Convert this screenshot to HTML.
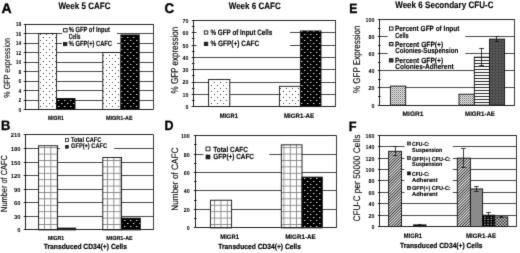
<!DOCTYPE html>
<html><head><meta charset="utf-8"><style>
html,body{margin:0;padding:0;background:#fff;width:520px;height:253px;overflow:hidden}
svg{display:block;font-family:"Liberation Sans", sans-serif;filter:grayscale(1)}
</style></head><body>
<svg xmlns="http://www.w3.org/2000/svg" width="520" height="253" viewBox="0 0 520 253" text-rendering="geometricPrecision" font-family='"Liberation Sans", sans-serif'>
<defs>
<pattern id="pdl" width="6" height="6" patternUnits="userSpaceOnUse">
  <rect width="6" height="6" fill="#fff"/>
  <rect x="1" y="1" width="1" height="1" fill="#444"/>
  <rect x="4" y="4" width="1" height="1" fill="#444"/>
</pattern>
<pattern id="pdd" width="6" height="6" patternUnits="userSpaceOnUse">
  <rect width="6" height="6" fill="#000"/>
  <rect x="1" y="1" width="1.4" height="1" fill="#ddd"/>
  <rect x="4" y="4" width="1.4" height="1" fill="#ddd"/>
</pattern>
<pattern id="pgrid" width="6.3" height="6.4" patternUnits="userSpaceOnUse">
  <rect width="6.3" height="6.4" fill="#fff"/>
  <rect x="0" y="0" width="0.9" height="6.4" fill="#888"/>
  <rect x="0" y="0" width="6.3" height="0.9" fill="#888"/>
</pattern>
<pattern id="pxl" width="2" height="2" patternUnits="userSpaceOnUse">
  <rect width="2" height="2" fill="#fff"/>
  <rect x="0" y="0" width="1" height="1" fill="#555"/>
  <rect x="1" y="1" width="1" height="1" fill="#999"/>
</pattern>
<pattern id="phs" width="4" height="3" patternUnits="userSpaceOnUse">
  <rect width="4" height="3" fill="#fff"/>
  <rect x="0" y="0" width="4" height="0.9" fill="#111"/>
</pattern>
<pattern id="pdg" width="3" height="3" patternUnits="userSpaceOnUse">
  <rect width="3" height="3" fill="#5a5a5a"/>
  <rect x="0" y="0" width="1" height="3" fill="#444"/>
  <rect x="0" y="0" width="3" height="1" fill="#4a4a4a"/>
</pattern>
<pattern id="pdiag" width="2.0" height="3" patternUnits="userSpaceOnUse" patternTransform="rotate(45)">
  <rect width="2.0" height="3" fill="#fff"/>
  <rect x="0" y="0" width="0.9" height="3" fill="#111"/>
</pattern>
<pattern id="pdd2" width="3.2" height="2.3" patternUnits="userSpaceOnUse">
  <rect width="3.2" height="2.3" fill="#000"/>
  <rect x="1" y="0.6" width="1.3" height="1" fill="#ddd"/>
</pattern>
<pattern id="pchk" width="3" height="3" patternUnits="userSpaceOnUse">
  <rect width="3" height="3" fill="#ddd"/>
  <rect x="0" y="0" width="1.5" height="1.5" fill="#222"/>
  <rect x="1.5" y="1.5" width="1.5" height="1.5" fill="#222"/>
</pattern>
<filter id="bl" x="0" y="0" width="520" height="253" filterUnits="userSpaceOnUse" color-interpolation-filters="sRGB"><feConvolveMatrix order="3" kernelMatrix="0.01134 0.08382 0.01134 0.08382 0.61935 0.08382 0.01134 0.08382 0.01134" edgeMode="duplicate"/></filter></defs>
<g filter="url(#bl)">
<rect width="520" height="253" fill="#fff"/>
<line x1="25.2" y1="100.5" x2="153.2" y2="100.5" stroke="#333" stroke-width="0.9"/>
<line x1="25.2" y1="90.5" x2="153.2" y2="90.5" stroke="#333" stroke-width="0.9"/>
<line x1="25.2" y1="81.5" x2="153.2" y2="81.5" stroke="#333" stroke-width="0.9"/>
<line x1="25.2" y1="71.5" x2="153.2" y2="71.5" stroke="#333" stroke-width="0.9"/>
<line x1="25.2" y1="62.5" x2="153.2" y2="62.5" stroke="#333" stroke-width="0.9"/>
<line x1="25.2" y1="52.5" x2="153.2" y2="52.5" stroke="#333" stroke-width="0.9"/>
<line x1="25.2" y1="43.5" x2="153.2" y2="43.5" stroke="#333" stroke-width="0.9"/>
<line x1="25.2" y1="33.5" x2="153.2" y2="33.5" stroke="#333" stroke-width="0.9"/>
<line x1="25.2" y1="24.5" x2="153.2" y2="24.5" stroke="#333" stroke-width="0.9"/>
<line x1="23.7" y1="109.5" x2="26.7" y2="109.5" stroke="#222" stroke-width="1"/>
<text x="21.2" y="111.99" font-size="5.8" font-weight="bold" text-anchor="end" textLength="2.75" lengthAdjust="spacingAndGlyphs">0</text>
<line x1="23.7" y1="100.5" x2="26.7" y2="100.5" stroke="#222" stroke-width="1"/>
<text x="21.2" y="102.49" font-size="5.8" font-weight="bold" text-anchor="end" textLength="2.75" lengthAdjust="spacingAndGlyphs">2</text>
<line x1="23.7" y1="90.5" x2="26.7" y2="90.5" stroke="#222" stroke-width="1"/>
<text x="21.2" y="92.99" font-size="5.8" font-weight="bold" text-anchor="end" textLength="2.75" lengthAdjust="spacingAndGlyphs">4</text>
<line x1="23.7" y1="81.5" x2="26.7" y2="81.5" stroke="#222" stroke-width="1"/>
<text x="21.2" y="83.49" font-size="5.8" font-weight="bold" text-anchor="end" textLength="2.75" lengthAdjust="spacingAndGlyphs">6</text>
<line x1="23.7" y1="71.5" x2="26.7" y2="71.5" stroke="#222" stroke-width="1"/>
<text x="21.2" y="73.99" font-size="5.8" font-weight="bold" text-anchor="end" textLength="2.75" lengthAdjust="spacingAndGlyphs">8</text>
<line x1="23.7" y1="62.5" x2="26.7" y2="62.5" stroke="#222" stroke-width="1"/>
<text x="21.2" y="64.49" font-size="5.8" font-weight="bold" text-anchor="end" textLength="5.5" lengthAdjust="spacingAndGlyphs">10</text>
<line x1="23.7" y1="52.5" x2="26.7" y2="52.5" stroke="#222" stroke-width="1"/>
<text x="21.2" y="54.99" font-size="5.8" font-weight="bold" text-anchor="end" textLength="5.5" lengthAdjust="spacingAndGlyphs">12</text>
<line x1="23.7" y1="43.5" x2="26.7" y2="43.5" stroke="#222" stroke-width="1"/>
<text x="21.2" y="45.49" font-size="5.8" font-weight="bold" text-anchor="end" textLength="5.5" lengthAdjust="spacingAndGlyphs">14</text>
<line x1="23.7" y1="33.5" x2="26.7" y2="33.5" stroke="#222" stroke-width="1"/>
<text x="21.2" y="35.99" font-size="5.8" font-weight="bold" text-anchor="end" textLength="5.5" lengthAdjust="spacingAndGlyphs">16</text>
<line x1="23.7" y1="24.5" x2="26.7" y2="24.5" stroke="#222" stroke-width="1"/>
<text x="21.2" y="26.49" font-size="5.8" font-weight="bold" text-anchor="end" textLength="5.5" lengthAdjust="spacingAndGlyphs">18</text>
<rect x="38.7" y="33.5" width="17.9" height="76" fill="url(#pdl)" stroke="#111" stroke-width="0.9"/>
<rect x="56.6" y="98.58" width="18.4" height="10.92" fill="url(#pdd)" stroke="#111" stroke-width="0.9"/>
<rect x="102.8" y="52.5" width="18.1" height="57" fill="url(#pdl)" stroke="#111" stroke-width="0.9"/>
<rect x="120.9" y="34.93" width="18.3" height="74.57" fill="url(#pdd)" stroke="#111" stroke-width="0.9"/>
<line x1="25.5" y1="24" x2="25.5" y2="109.5" stroke="#222" stroke-width="1"/>
<line x1="25.2" y1="109.5" x2="153.2" y2="109.5" stroke="#222" stroke-width="1"/>
<line x1="153.5" y1="24" x2="153.5" y2="109.5" stroke="#222" stroke-width="0.9"/>
<line x1="25.2" y1="24.5" x2="153.2" y2="24.5" stroke="#222" stroke-width="0.9"/>
<line x1="193.2" y1="94.5" x2="335.8" y2="94.5" stroke="#333" stroke-width="0.9"/>
<line x1="193.2" y1="82.5" x2="335.8" y2="82.5" stroke="#333" stroke-width="0.9"/>
<line x1="193.2" y1="69.5" x2="335.8" y2="69.5" stroke="#333" stroke-width="0.9"/>
<line x1="193.2" y1="57.5" x2="335.8" y2="57.5" stroke="#333" stroke-width="0.9"/>
<line x1="193.2" y1="45.5" x2="335.8" y2="45.5" stroke="#333" stroke-width="0.9"/>
<line x1="193.2" y1="32.5" x2="335.8" y2="32.5" stroke="#333" stroke-width="0.9"/>
<line x1="193.2" y1="20.5" x2="335.8" y2="20.5" stroke="#333" stroke-width="0.9"/>
<line x1="191.7" y1="106.5" x2="194.7" y2="106.5" stroke="#222" stroke-width="1"/>
<text x="188.4" y="109.09" font-size="5.8" font-weight="bold" text-anchor="end" textLength="2.95" lengthAdjust="spacingAndGlyphs">0</text>
<line x1="191.7" y1="94.5" x2="194.7" y2="94.5" stroke="#222" stroke-width="1"/>
<text x="188.4" y="96.79" font-size="5.8" font-weight="bold" text-anchor="end" textLength="5.9" lengthAdjust="spacingAndGlyphs">10</text>
<line x1="191.7" y1="82.5" x2="194.7" y2="82.5" stroke="#222" stroke-width="1"/>
<text x="188.4" y="84.49" font-size="5.8" font-weight="bold" text-anchor="end" textLength="5.9" lengthAdjust="spacingAndGlyphs">20</text>
<line x1="191.7" y1="69.5" x2="194.7" y2="69.5" stroke="#222" stroke-width="1"/>
<text x="188.4" y="72.19" font-size="5.8" font-weight="bold" text-anchor="end" textLength="5.9" lengthAdjust="spacingAndGlyphs">30</text>
<line x1="191.7" y1="57.5" x2="194.7" y2="57.5" stroke="#222" stroke-width="1"/>
<text x="188.4" y="59.89" font-size="5.8" font-weight="bold" text-anchor="end" textLength="5.9" lengthAdjust="spacingAndGlyphs">40</text>
<line x1="191.7" y1="45.5" x2="194.7" y2="45.5" stroke="#222" stroke-width="1"/>
<text x="188.4" y="47.59" font-size="5.8" font-weight="bold" text-anchor="end" textLength="5.9" lengthAdjust="spacingAndGlyphs">50</text>
<line x1="191.7" y1="32.5" x2="194.7" y2="32.5" stroke="#222" stroke-width="1"/>
<text x="188.4" y="35.29" font-size="5.8" font-weight="bold" text-anchor="end" textLength="5.9" lengthAdjust="spacingAndGlyphs">60</text>
<line x1="191.7" y1="20.5" x2="194.7" y2="20.5" stroke="#222" stroke-width="1"/>
<text x="188.4" y="22.99" font-size="5.8" font-weight="bold" text-anchor="end" textLength="5.9" lengthAdjust="spacingAndGlyphs">70</text>
<line x1="191.9" y1="100.5" x2="194.5" y2="100.5" stroke="#222" stroke-width="1"/>
<line x1="191.9" y1="88.5" x2="194.5" y2="88.5" stroke="#222" stroke-width="1"/>
<line x1="191.9" y1="75.5" x2="194.5" y2="75.5" stroke="#222" stroke-width="1"/>
<line x1="191.9" y1="63.5" x2="194.5" y2="63.5" stroke="#222" stroke-width="1"/>
<line x1="191.9" y1="51.5" x2="194.5" y2="51.5" stroke="#222" stroke-width="1"/>
<line x1="191.9" y1="38.5" x2="194.5" y2="38.5" stroke="#222" stroke-width="1"/>
<line x1="191.9" y1="26.5" x2="194.5" y2="26.5" stroke="#222" stroke-width="1"/>
<rect x="208.6" y="79.54" width="21.2" height="27.06" fill="url(#pdl)" stroke="#111" stroke-width="0.9"/>
<rect x="279.4" y="86.3" width="21" height="20.3" fill="url(#pdl)" stroke="#111" stroke-width="0.9"/>
<rect x="300.4" y="30.95" width="20.6" height="75.64" fill="url(#pdd)" stroke="#111" stroke-width="0.9"/>
<line x1="193.5" y1="20.5" x2="193.5" y2="106.6" stroke="#222" stroke-width="1"/>
<line x1="193.2" y1="106.5" x2="335.8" y2="106.5" stroke="#222" stroke-width="1"/>
<line x1="335.5" y1="20.5" x2="335.5" y2="106.6" stroke="#222" stroke-width="0.9"/>
<line x1="193.2" y1="20.5" x2="335.8" y2="20.5" stroke="#222" stroke-width="0.9"/>
<line x1="379.3" y1="87.5" x2="514.8" y2="87.5" stroke="#333" stroke-width="0.9"/>
<line x1="379.3" y1="70.5" x2="514.8" y2="70.5" stroke="#333" stroke-width="0.9"/>
<line x1="379.3" y1="53.5" x2="514.8" y2="53.5" stroke="#333" stroke-width="0.9"/>
<line x1="379.3" y1="36.5" x2="514.8" y2="36.5" stroke="#333" stroke-width="0.9"/>
<line x1="379.3" y1="19.5" x2="514.8" y2="19.5" stroke="#333" stroke-width="0.9"/>
<line x1="377.8" y1="105.5" x2="380.8" y2="105.5" stroke="#222" stroke-width="1"/>
<text x="374.6" y="107.59" font-size="5.8" font-weight="bold" text-anchor="end" textLength="3" lengthAdjust="spacingAndGlyphs">0</text>
<line x1="377.8" y1="87.5" x2="380.8" y2="87.5" stroke="#222" stroke-width="1"/>
<text x="374.6" y="90.47" font-size="5.8" font-weight="bold" text-anchor="end" textLength="6" lengthAdjust="spacingAndGlyphs">20</text>
<line x1="377.8" y1="70.5" x2="380.8" y2="70.5" stroke="#222" stroke-width="1"/>
<text x="374.6" y="73.35" font-size="5.8" font-weight="bold" text-anchor="end" textLength="6" lengthAdjust="spacingAndGlyphs">40</text>
<line x1="377.8" y1="53.5" x2="380.8" y2="53.5" stroke="#222" stroke-width="1"/>
<text x="374.6" y="56.23" font-size="5.8" font-weight="bold" text-anchor="end" textLength="6" lengthAdjust="spacingAndGlyphs">60</text>
<line x1="377.8" y1="36.5" x2="380.8" y2="36.5" stroke="#222" stroke-width="1"/>
<text x="374.6" y="39.11" font-size="5.8" font-weight="bold" text-anchor="end" textLength="6" lengthAdjust="spacingAndGlyphs">80</text>
<line x1="377.8" y1="19.5" x2="380.8" y2="19.5" stroke="#222" stroke-width="1"/>
<text x="374.6" y="21.99" font-size="5.8" font-weight="bold" text-anchor="end" textLength="9" lengthAdjust="spacingAndGlyphs">100</text>
<line x1="378" y1="96.5" x2="380.6" y2="96.5" stroke="#222" stroke-width="1"/>
<line x1="378" y1="79.5" x2="380.6" y2="79.5" stroke="#222" stroke-width="1"/>
<line x1="378" y1="62.5" x2="380.6" y2="62.5" stroke="#222" stroke-width="1"/>
<line x1="378" y1="45.5" x2="380.6" y2="45.5" stroke="#222" stroke-width="1"/>
<line x1="378" y1="28.5" x2="380.6" y2="28.5" stroke="#222" stroke-width="1"/>
<rect x="390.4" y="86.1" width="15.3" height="19" fill="url(#pxl)" stroke="#111" stroke-width="0.9"/>
<rect x="459" y="94.23" width="15.3" height="10.87" fill="url(#pxl)" stroke="#111" stroke-width="0.9"/>
<rect x="474.3" y="57.16" width="15.2" height="47.94" fill="url(#phs)" stroke="#111" stroke-width="0.9"/>
<rect x="489.5" y="39.1" width="15.1" height="66" fill="url(#pdg)" stroke="#111" stroke-width="0.9"/>
<line x1="481.5" y1="65.38" x2="481.5" y2="48.18" stroke="#111" stroke-width="0.8"/>
<line x1="479.2" y1="48.5" x2="484" y2="48.5" stroke="#111" stroke-width="0.8"/>
<line x1="479.2" y1="65.5" x2="484" y2="65.5" stroke="#111" stroke-width="0.8"/>
<line x1="496.5" y1="41.76" x2="496.5" y2="36.19" stroke="#111" stroke-width="0.8"/>
<line x1="494.65" y1="36.5" x2="499.15" y2="36.5" stroke="#111" stroke-width="0.8"/>
<line x1="494.65" y1="41.5" x2="499.15" y2="41.5" stroke="#111" stroke-width="0.8"/>
<line x1="379.5" y1="19.5" x2="379.5" y2="105.1" stroke="#222" stroke-width="1"/>
<line x1="379.3" y1="105.5" x2="514.8" y2="105.5" stroke="#222" stroke-width="1"/>
<line x1="514.5" y1="19.5" x2="514.5" y2="105.1" stroke="#222" stroke-width="0.9"/>
<line x1="379.3" y1="19.5" x2="514.8" y2="19.5" stroke="#222" stroke-width="0.9"/>
<line x1="25.2" y1="216.5" x2="153.4" y2="216.5" stroke="#333" stroke-width="0.9"/>
<line x1="25.2" y1="202.5" x2="153.4" y2="202.5" stroke="#333" stroke-width="0.9"/>
<line x1="25.2" y1="189.5" x2="153.4" y2="189.5" stroke="#333" stroke-width="0.9"/>
<line x1="25.2" y1="175.5" x2="153.4" y2="175.5" stroke="#333" stroke-width="0.9"/>
<line x1="25.2" y1="162.5" x2="153.4" y2="162.5" stroke="#333" stroke-width="0.9"/>
<line x1="25.2" y1="148.5" x2="153.4" y2="148.5" stroke="#333" stroke-width="0.9"/>
<line x1="25.2" y1="134.5" x2="153.4" y2="134.5" stroke="#333" stroke-width="0.9"/>
<line x1="23.7" y1="229.5" x2="26.7" y2="229.5" stroke="#222" stroke-width="1"/>
<text x="20.4" y="232.39" font-size="5.8" font-weight="bold" text-anchor="end" textLength="3.25" lengthAdjust="spacingAndGlyphs">0</text>
<line x1="23.7" y1="216.5" x2="26.7" y2="216.5" stroke="#222" stroke-width="1"/>
<text x="20.4" y="218.82" font-size="5.8" font-weight="bold" text-anchor="end" textLength="6.5" lengthAdjust="spacingAndGlyphs">30</text>
<line x1="23.7" y1="202.5" x2="26.7" y2="202.5" stroke="#222" stroke-width="1"/>
<text x="20.4" y="205.25" font-size="5.8" font-weight="bold" text-anchor="end" textLength="6.5" lengthAdjust="spacingAndGlyphs">60</text>
<line x1="23.7" y1="189.5" x2="26.7" y2="189.5" stroke="#222" stroke-width="1"/>
<text x="20.4" y="191.67" font-size="5.8" font-weight="bold" text-anchor="end" textLength="6.5" lengthAdjust="spacingAndGlyphs">90</text>
<line x1="23.7" y1="175.5" x2="26.7" y2="175.5" stroke="#222" stroke-width="1"/>
<text x="20.4" y="178.1" font-size="5.8" font-weight="bold" text-anchor="end" textLength="9.75" lengthAdjust="spacingAndGlyphs">120</text>
<line x1="23.7" y1="162.5" x2="26.7" y2="162.5" stroke="#222" stroke-width="1"/>
<text x="20.4" y="164.53" font-size="5.8" font-weight="bold" text-anchor="end" textLength="9.75" lengthAdjust="spacingAndGlyphs">150</text>
<line x1="23.7" y1="148.5" x2="26.7" y2="148.5" stroke="#222" stroke-width="1"/>
<text x="20.4" y="150.96" font-size="5.8" font-weight="bold" text-anchor="end" textLength="9.75" lengthAdjust="spacingAndGlyphs">180</text>
<line x1="23.7" y1="134.5" x2="26.7" y2="134.5" stroke="#222" stroke-width="1"/>
<text x="20.4" y="137.39" font-size="5.8" font-weight="bold" text-anchor="end" textLength="9.75" lengthAdjust="spacingAndGlyphs">210</text>
<rect x="38.6" y="145.76" width="19" height="84.14" fill="url(#pgrid)" stroke="#111" stroke-width="0.9"/>
<rect x="57.6" y="228.09" width="18.1" height="1.81" fill="url(#pdd)" stroke="#111" stroke-width="0.9"/>
<rect x="102.8" y="157.52" width="18.8" height="72.38" fill="url(#pgrid)" stroke="#111" stroke-width="0.9"/>
<rect x="121.6" y="218.14" width="18.7" height="11.76" fill="url(#pdd)" stroke="#111" stroke-width="0.9"/>
<line x1="25.5" y1="134.9" x2="25.5" y2="229.9" stroke="#222" stroke-width="1"/>
<line x1="25.2" y1="229.5" x2="153.4" y2="229.5" stroke="#222" stroke-width="1"/>
<line x1="153.5" y1="134.9" x2="153.5" y2="229.9" stroke="#222" stroke-width="0.9"/>
<line x1="25.2" y1="134.5" x2="153.4" y2="134.5" stroke="#222" stroke-width="0.9"/>
<line x1="195.3" y1="209.5" x2="336.3" y2="209.5" stroke="#333" stroke-width="0.9"/>
<line x1="195.3" y1="190.5" x2="336.3" y2="190.5" stroke="#333" stroke-width="0.9"/>
<line x1="195.3" y1="172.5" x2="336.3" y2="172.5" stroke="#333" stroke-width="0.9"/>
<line x1="195.3" y1="154.5" x2="336.3" y2="154.5" stroke="#333" stroke-width="0.9"/>
<line x1="195.3" y1="135.5" x2="336.3" y2="135.5" stroke="#333" stroke-width="0.9"/>
<line x1="193.8" y1="227.5" x2="196.8" y2="227.5" stroke="#222" stroke-width="1"/>
<text x="189.8" y="230.39" font-size="5.8" font-weight="bold" text-anchor="end" textLength="2.97" lengthAdjust="spacingAndGlyphs">0</text>
<line x1="193.8" y1="209.5" x2="196.8" y2="209.5" stroke="#222" stroke-width="1"/>
<text x="189.8" y="211.93" font-size="5.8" font-weight="bold" text-anchor="end" textLength="5.94" lengthAdjust="spacingAndGlyphs">20</text>
<line x1="193.8" y1="190.5" x2="196.8" y2="190.5" stroke="#222" stroke-width="1"/>
<text x="189.8" y="193.47" font-size="5.8" font-weight="bold" text-anchor="end" textLength="5.94" lengthAdjust="spacingAndGlyphs">40</text>
<line x1="193.8" y1="172.5" x2="196.8" y2="172.5" stroke="#222" stroke-width="1"/>
<text x="189.8" y="175.01" font-size="5.8" font-weight="bold" text-anchor="end" textLength="5.94" lengthAdjust="spacingAndGlyphs">60</text>
<line x1="193.8" y1="154.5" x2="196.8" y2="154.5" stroke="#222" stroke-width="1"/>
<text x="189.8" y="156.55" font-size="5.8" font-weight="bold" text-anchor="end" textLength="5.94" lengthAdjust="spacingAndGlyphs">80</text>
<line x1="193.8" y1="135.5" x2="196.8" y2="135.5" stroke="#222" stroke-width="1"/>
<text x="189.8" y="138.09" font-size="5.8" font-weight="bold" text-anchor="end" textLength="8.91" lengthAdjust="spacingAndGlyphs">100</text>
<line x1="194" y1="218.5" x2="196.6" y2="218.5" stroke="#222" stroke-width="1"/>
<line x1="194" y1="200.5" x2="196.6" y2="200.5" stroke="#222" stroke-width="1"/>
<line x1="194" y1="181.5" x2="196.6" y2="181.5" stroke="#222" stroke-width="1"/>
<line x1="194" y1="163.5" x2="196.6" y2="163.5" stroke="#222" stroke-width="1"/>
<line x1="194" y1="144.5" x2="196.6" y2="144.5" stroke="#222" stroke-width="1"/>
<rect x="210.4" y="200.21" width="21.2" height="27.69" fill="url(#pgrid)" stroke="#111" stroke-width="0.9"/>
<rect x="281.3" y="144.83" width="20.7" height="83.07" fill="url(#pgrid)" stroke="#111" stroke-width="0.9"/>
<rect x="302" y="177.13" width="20.3" height="50.77" fill="url(#pdd)" stroke="#111" stroke-width="0.9"/>
<line x1="195.5" y1="135.6" x2="195.5" y2="227.9" stroke="#222" stroke-width="1"/>
<line x1="195.3" y1="227.5" x2="336.3" y2="227.5" stroke="#222" stroke-width="1"/>
<line x1="336.5" y1="135.6" x2="336.5" y2="227.9" stroke="#222" stroke-width="0.9"/>
<line x1="195.3" y1="135.5" x2="336.3" y2="135.5" stroke="#222" stroke-width="0.9"/>
<line x1="379.4" y1="215.5" x2="516.4" y2="215.5" stroke="#333" stroke-width="0.9"/>
<line x1="379.4" y1="203.5" x2="516.4" y2="203.5" stroke="#333" stroke-width="0.9"/>
<line x1="379.4" y1="192.5" x2="516.4" y2="192.5" stroke="#333" stroke-width="0.9"/>
<line x1="379.4" y1="180.5" x2="516.4" y2="180.5" stroke="#333" stroke-width="0.9"/>
<line x1="379.4" y1="169.5" x2="516.4" y2="169.5" stroke="#333" stroke-width="0.9"/>
<line x1="379.4" y1="158.5" x2="516.4" y2="158.5" stroke="#333" stroke-width="0.9"/>
<line x1="379.4" y1="146.5" x2="516.4" y2="146.5" stroke="#333" stroke-width="0.9"/>
<line x1="379.4" y1="135.5" x2="516.4" y2="135.5" stroke="#333" stroke-width="0.9"/>
<line x1="377.9" y1="226.5" x2="380.9" y2="226.5" stroke="#222" stroke-width="1"/>
<text x="374.5" y="229.09" font-size="5.8" font-weight="bold" text-anchor="end" textLength="3" lengthAdjust="spacingAndGlyphs">0</text>
<line x1="377.9" y1="215.5" x2="380.9" y2="215.5" stroke="#222" stroke-width="1"/>
<text x="374.5" y="217.68" font-size="5.8" font-weight="bold" text-anchor="end" textLength="6" lengthAdjust="spacingAndGlyphs">20</text>
<line x1="377.9" y1="203.5" x2="380.9" y2="203.5" stroke="#222" stroke-width="1"/>
<text x="374.5" y="206.26" font-size="5.8" font-weight="bold" text-anchor="end" textLength="6" lengthAdjust="spacingAndGlyphs">40</text>
<line x1="377.9" y1="192.5" x2="380.9" y2="192.5" stroke="#222" stroke-width="1"/>
<text x="374.5" y="194.85" font-size="5.8" font-weight="bold" text-anchor="end" textLength="6" lengthAdjust="spacingAndGlyphs">60</text>
<line x1="377.9" y1="180.5" x2="380.9" y2="180.5" stroke="#222" stroke-width="1"/>
<text x="374.5" y="183.44" font-size="5.8" font-weight="bold" text-anchor="end" textLength="6" lengthAdjust="spacingAndGlyphs">80</text>
<line x1="377.9" y1="169.5" x2="380.9" y2="169.5" stroke="#222" stroke-width="1"/>
<text x="374.5" y="172.03" font-size="5.8" font-weight="bold" text-anchor="end" textLength="9" lengthAdjust="spacingAndGlyphs">100</text>
<line x1="377.9" y1="158.5" x2="380.9" y2="158.5" stroke="#222" stroke-width="1"/>
<text x="374.5" y="160.61" font-size="5.8" font-weight="bold" text-anchor="end" textLength="9" lengthAdjust="spacingAndGlyphs">120</text>
<line x1="377.9" y1="146.5" x2="380.9" y2="146.5" stroke="#222" stroke-width="1"/>
<text x="374.5" y="149.2" font-size="5.8" font-weight="bold" text-anchor="end" textLength="9" lengthAdjust="spacingAndGlyphs">140</text>
<line x1="377.9" y1="135.5" x2="380.9" y2="135.5" stroke="#222" stroke-width="1"/>
<text x="374.5" y="137.79" font-size="5.8" font-weight="bold" text-anchor="end" textLength="9" lengthAdjust="spacingAndGlyphs">160</text>
<rect x="388.6" y="151.28" width="12.9" height="75.32" fill="url(#pdiag)" stroke="#111" stroke-width="0.9"/>
<rect x="413.6" y="224.89" width="12.4" height="1.71" fill="url(#pdd2)" stroke="#111" stroke-width="0.9"/>
<rect x="457.3" y="158.12" width="13.1" height="68.47" fill="url(#pdiag)" stroke="#111" stroke-width="0.9"/>
<rect x="470.4" y="188.94" width="12.2" height="37.66" fill="#8a8a8a" stroke="#111" stroke-width="0.9"/>
<rect x="482.6" y="215.19" width="12.2" height="11.41" fill="url(#pdd2)" stroke="#111" stroke-width="0.9"/>
<rect x="494.8" y="216.9" width="13" height="9.7" fill="url(#pchk)" stroke="#111" stroke-width="0.9"/>
<line x1="395.5" y1="155.84" x2="395.5" y2="146.71" stroke="#111" stroke-width="0.8"/>
<line x1="392.7" y1="146.5" x2="397.3" y2="146.5" stroke="#111" stroke-width="0.8"/>
<line x1="392.7" y1="155.5" x2="397.3" y2="155.5" stroke="#111" stroke-width="0.8"/>
<line x1="419.5" y1="225.46" x2="419.5" y2="224.03" stroke="#111" stroke-width="0.8"/>
<line x1="418.2" y1="224.5" x2="421.2" y2="224.5" stroke="#111" stroke-width="0.8"/>
<line x1="418.2" y1="225.5" x2="421.2" y2="225.5" stroke="#111" stroke-width="0.8"/>
<line x1="463.5" y1="167.25" x2="463.5" y2="149" stroke="#111" stroke-width="0.8"/>
<line x1="461.05" y1="148.5" x2="465.75" y2="148.5" stroke="#111" stroke-width="0.8"/>
<line x1="461.05" y1="167.5" x2="465.75" y2="167.5" stroke="#111" stroke-width="0.8"/>
<line x1="476.5" y1="191.22" x2="476.5" y2="186.66" stroke="#111" stroke-width="0.8"/>
<line x1="474.1" y1="186.5" x2="478.7" y2="186.5" stroke="#111" stroke-width="0.8"/>
<line x1="474.1" y1="191.5" x2="478.7" y2="191.5" stroke="#111" stroke-width="0.8"/>
<line x1="488.5" y1="217.47" x2="488.5" y2="212.62" stroke="#111" stroke-width="0.8"/>
<line x1="486.3" y1="212.5" x2="490.9" y2="212.5" stroke="#111" stroke-width="0.8"/>
<line x1="486.3" y1="217.5" x2="490.9" y2="217.5" stroke="#111" stroke-width="0.8"/>
<line x1="501.5" y1="217.76" x2="501.5" y2="216.44" stroke="#111" stroke-width="0.8"/>
<line x1="499.8" y1="216.5" x2="502.8" y2="216.5" stroke="#111" stroke-width="0.8"/>
<line x1="499.8" y1="217.5" x2="502.8" y2="217.5" stroke="#111" stroke-width="0.8"/>
<line x1="379.5" y1="135.3" x2="379.5" y2="226.6" stroke="#222" stroke-width="1"/>
<line x1="379.4" y1="226.5" x2="516.4" y2="226.5" stroke="#222" stroke-width="1"/>
<line x1="516.5" y1="135.3" x2="516.5" y2="226.6" stroke="#222" stroke-width="0.9"/>
<line x1="379.4" y1="135.5" x2="516.4" y2="135.5" stroke="#222" stroke-width="0.9"/>
<rect x="62" y="26" width="55" height="21.5" fill="#fff"/>
<rect x="63.6" y="28.6" width="3.5" height="3.3" fill="#fff" stroke="#111" stroke-width="0.9"/>
<text x="68.8" y="32" font-size="7.6" font-weight="bold" textLength="41.2" lengthAdjust="spacingAndGlyphs" stroke="#000" stroke-width="0.12">% GFP of Input</text>
<text x="68.8" y="38.5" font-size="7.6" font-weight="bold" textLength="11.8" lengthAdjust="spacingAndGlyphs" stroke="#000" stroke-width="0.12">Cells</text>
<rect x="63.4" y="42.4" width="3.5" height="3.3" fill="#222" stroke="#111" stroke-width="0.8"/>
<text x="68.8" y="45.7" font-size="7.6" font-weight="bold" textLength="43.1" lengthAdjust="spacingAndGlyphs" stroke="#000" stroke-width="0.12">% GFP(+) CAFC</text>
<rect x="196.6" y="25" width="93.4" height="23" fill="#fff"/>
<rect x="204.3" y="30.9" width="3.5" height="3.2" fill="#fff" stroke="#111" stroke-width="0.9"/>
<text x="210.5" y="34.8" font-size="7.8" font-weight="bold" textLength="61.8" lengthAdjust="spacingAndGlyphs" stroke="#000" stroke-width="0.12">% GFP of Input Cells</text>
<rect x="204.3" y="42.2" width="3.5" height="3.4" fill="#222" stroke="#111" stroke-width="0.8"/>
<text x="210.5" y="46.3" font-size="7.8" font-weight="bold" textLength="48.7" lengthAdjust="spacingAndGlyphs" stroke="#000" stroke-width="0.12">% GFP(+) CAFC</text>
<rect x="387.6" y="22" width="77.8" height="48" fill="#fff"/>
<rect x="389.4" y="26.9" width="3.6" height="3.3" fill="#fff" stroke="#111" stroke-width="0.9"/>
<text x="394.9" y="31.2" font-size="7.5" font-weight="bold" textLength="64.6" lengthAdjust="spacingAndGlyphs" stroke="#000" stroke-width="0.12">Percent GFP of Input</text>
<text x="395.2" y="37.7" font-size="7.5" font-weight="bold" textLength="13.6" lengthAdjust="spacingAndGlyphs" stroke="#000" stroke-width="0.12">Cells</text>
<rect x="389.4" y="42.5" width="3.6" height="3.3" fill="url(#pxl)" stroke="#111" stroke-width="0.9"/>
<text x="394.9" y="46.8" font-size="7.5" font-weight="bold" textLength="48.3" lengthAdjust="spacingAndGlyphs" stroke="#000" stroke-width="0.12">Percent GFP(+)</text>
<text x="395.2" y="53.4" font-size="7.5" font-weight="bold" textLength="63.1" lengthAdjust="spacingAndGlyphs" stroke="#000" stroke-width="0.12">Colonies-Suspension</text>
<rect x="389.4" y="58.7" width="3.6" height="3.3" fill="#444" stroke="#111" stroke-width="0.9"/>
<text x="394.9" y="62.6" font-size="7.5" font-weight="bold" textLength="48.3" lengthAdjust="spacingAndGlyphs" stroke="#000" stroke-width="0.12">Percent GFP(+)</text>
<text x="395.2" y="68.9" font-size="7.5" font-weight="bold" textLength="58.5" lengthAdjust="spacingAndGlyphs" stroke="#000" stroke-width="0.12">Colonies-Adherent</text>
<rect x="60" y="136" width="54.2" height="14" fill="#fff"/>
<rect x="65.5" y="138.6" width="3" height="2.8" fill="#fff" stroke="#111" stroke-width="0.8"/>
<text x="71" y="141.8" font-size="6.9" font-weight="bold" textLength="30.3" lengthAdjust="spacingAndGlyphs" stroke="#000" stroke-width="0.12">Total CAFC</text>
<rect x="65.5" y="145.3" width="3" height="2.9" fill="#222" stroke="#111" stroke-width="0.6"/>
<text x="71" y="148.4" font-size="6.9" font-weight="bold" textLength="36.1" lengthAdjust="spacingAndGlyphs" stroke="#000" stroke-width="0.12">GFP(+) CAFC</text>
<rect x="203.5" y="144" width="65.8" height="16.5" fill="#fff"/>
<rect x="206" y="147" width="4" height="3.8" fill="#fff" stroke="#111" stroke-width="0.9"/>
<text x="213.3" y="151.8" font-size="7.6" font-weight="bold" textLength="34.6" lengthAdjust="spacingAndGlyphs" stroke="#000" stroke-width="0.12">Total CAFC</text>
<rect x="206" y="155" width="4" height="3.9" fill="#222" stroke="#111" stroke-width="0.7"/>
<text x="213.3" y="158.7" font-size="7.6" font-weight="bold" textLength="40.7" lengthAdjust="spacingAndGlyphs" stroke="#000" stroke-width="0.12">GFP(+) CAFC</text>
<rect x="404.5" y="139" width="48.3" height="58" fill="#fff"/>
<rect x="407.4" y="142" width="3" height="3" fill="url(#pdiag)" stroke="#111" stroke-width="0.7"/>
<text x="412.1" y="145.8" font-size="5.9" font-weight="bold" textLength="17.4" lengthAdjust="spacingAndGlyphs" stroke="#000" stroke-width="0.12">CFU-C:</text>
<text x="412.1" y="151.9" font-size="5.9" font-weight="bold" textLength="30.3" lengthAdjust="spacingAndGlyphs" stroke="#000" stroke-width="0.12">Suspension</text>
<rect x="407.4" y="156.6" width="3" height="3" fill="#888" stroke="#111" stroke-width="0.7"/>
<text x="412.1" y="160.9" font-size="5.9" font-weight="bold" textLength="38.6" lengthAdjust="spacingAndGlyphs" stroke="#000" stroke-width="0.12">GFP(+) CFU-C:</text>
<text x="412.1" y="166.4" font-size="5.9" font-weight="bold" textLength="30.3" lengthAdjust="spacingAndGlyphs" stroke="#000" stroke-width="0.12">Suspension</text>
<rect x="407.4" y="171.9" width="3" height="3" fill="#111" stroke="#111" stroke-width="0.7"/>
<text x="412.1" y="175.5" font-size="5.9" font-weight="bold" textLength="17.4" lengthAdjust="spacingAndGlyphs" stroke="#000" stroke-width="0.12">CFU-C:</text>
<text x="412.1" y="181.6" font-size="5.9" font-weight="bold" textLength="25.5" lengthAdjust="spacingAndGlyphs" stroke="#000" stroke-width="0.12">Adherent</text>
<rect x="407.4" y="186.4" width="3" height="3" fill="url(#pchk)" stroke="#111" stroke-width="0.7"/>
<text x="412.1" y="190.3" font-size="5.9" font-weight="bold" textLength="38.6" lengthAdjust="spacingAndGlyphs" stroke="#000" stroke-width="0.12">GFP(+) CFU-C:</text>
<text x="412.1" y="196.3" font-size="5.9" font-weight="bold" textLength="25.5" lengthAdjust="spacingAndGlyphs" stroke="#000" stroke-width="0.12">Adherent</text>
<text x="1.4" y="13.1" font-size="14" font-weight="bold" textLength="10.2" lengthAdjust="spacingAndGlyphs" stroke="#000" stroke-width="0.35">A</text>
<text x="164.5" y="13.3" font-size="14" font-weight="bold" textLength="9.6" lengthAdjust="spacingAndGlyphs" stroke="#000" stroke-width="0.35">C</text>
<text x="349.3" y="13.4" font-size="13.6" font-weight="bold" textLength="8.1" lengthAdjust="spacingAndGlyphs" stroke="#000" stroke-width="0.35">E</text>
<text x="1" y="129.8" font-size="13.6" font-weight="bold" textLength="9.3" lengthAdjust="spacingAndGlyphs" stroke="#000" stroke-width="0.35">B</text>
<text x="164.5" y="129.6" font-size="13.6" font-weight="bold" textLength="9" lengthAdjust="spacingAndGlyphs" stroke="#000" stroke-width="0.35">D</text>
<text x="348.8" y="130.5" font-size="13.6" font-weight="bold" textLength="7.8" lengthAdjust="spacingAndGlyphs" stroke="#000" stroke-width="0.35">F</text>
<text x="58.4" y="9" font-size="9.3" font-weight="bold" textLength="52.2" lengthAdjust="spacingAndGlyphs" stroke="#000" stroke-width="0.12">Week 5 CAFC</text>
<text x="228.7" y="8.7" font-size="9.3" font-weight="bold" textLength="52.1" lengthAdjust="spacingAndGlyphs" stroke="#000" stroke-width="0.12">Week 6 CAFC</text>
<text x="395.2" y="7.8" font-size="9.3" font-weight="bold" textLength="98.3" lengthAdjust="spacingAndGlyphs" stroke="#000" stroke-width="0.12">Week 6 Secondary CFU-C</text>
<text x="10.4" y="67.85" font-size="8.9" text-anchor="middle" textLength="59.6" lengthAdjust="spacingAndGlyphs" stroke="#000" stroke-width="0.1" transform="rotate(-90 10.4 67.85)">% GFP expression</text>
<text x="178.5" y="60.05" font-size="10" text-anchor="middle" textLength="66.7" lengthAdjust="spacingAndGlyphs" stroke="#000" stroke-width="0.1" transform="rotate(-90 178.5 60.05)">% GFP expression</text>
<text x="360.3" y="59.3" font-size="9.9" text-anchor="middle" textLength="67.5" lengthAdjust="spacingAndGlyphs" stroke="#000" stroke-width="0.1" transform="rotate(-90 360.3 59.3)">% GFP Expression</text>
<text x="7.4" y="183.5" font-size="8.8" text-anchor="middle" textLength="56.8" lengthAdjust="spacingAndGlyphs" stroke="#000" stroke-width="0.1" transform="rotate(-90 7.4 183.5)">Number of CAFC</text>
<text x="178.4" y="179.1" font-size="9.4" text-anchor="middle" textLength="63.2" lengthAdjust="spacingAndGlyphs" stroke="#000" stroke-width="0.1" transform="rotate(-90 178.4 179.1)">Number of CAFC</text>
<text x="360" y="178.1" font-size="9.6" text-anchor="middle" textLength="87" lengthAdjust="spacingAndGlyphs" stroke="#000" stroke-width="0.1" transform="rotate(-90 360 178.1)">CFU-C per 50000 Cells</text>
<text x="48" y="120" font-size="6" font-weight="bold" textLength="15.9" lengthAdjust="spacingAndGlyphs" stroke="#000" stroke-width="0.12">MIGR1</text>
<text x="106" y="119.9" font-size="6" font-weight="bold" textLength="26.5" lengthAdjust="spacingAndGlyphs" stroke="#000" stroke-width="0.12">MIGR1-AE</text>
<text x="219.7" y="117.8" font-size="6.4" font-weight="bold" textLength="18.3" lengthAdjust="spacingAndGlyphs" stroke="#000" stroke-width="0.12">MIGR1</text>
<text x="284" y="117.8" font-size="6.4" font-weight="bold" textLength="30" lengthAdjust="spacingAndGlyphs" stroke="#000" stroke-width="0.12">MIGR1-AE</text>
<text x="402.6" y="115.8" font-size="6.6" font-weight="bold" textLength="20.8" lengthAdjust="spacingAndGlyphs" stroke="#000" stroke-width="0.12">MIGR1</text>
<text x="465.1" y="115.8" font-size="6.6" font-weight="bold" textLength="29.8" lengthAdjust="spacingAndGlyphs" stroke="#000" stroke-width="0.12">MIGR1-AE</text>
<text x="47.9" y="240.2" font-size="5.7" font-weight="bold" textLength="16.2" lengthAdjust="spacingAndGlyphs" stroke="#000" stroke-width="0.12">MIGR1</text>
<text x="106.2" y="240" font-size="5.9" font-weight="bold" textLength="26.5" lengthAdjust="spacingAndGlyphs" stroke="#000" stroke-width="0.12">MIGR1-AE</text>
<text x="220.2" y="238.6" font-size="6.4" font-weight="bold" textLength="18.8" lengthAdjust="spacingAndGlyphs" stroke="#000" stroke-width="0.12">MIGR1</text>
<text x="285.2" y="238.6" font-size="6.4" font-weight="bold" textLength="30.4" lengthAdjust="spacingAndGlyphs" stroke="#000" stroke-width="0.12">MIGR1-AE</text>
<text x="403.8" y="237.6" font-size="6.4" font-weight="bold" textLength="18.2" lengthAdjust="spacingAndGlyphs" stroke="#000" stroke-width="0.12">MIGR1</text>
<text x="466" y="237.6" font-size="6.4" font-weight="bold" textLength="30" lengthAdjust="spacingAndGlyphs" stroke="#000" stroke-width="0.12">MIGR1-AE</text>
<text x="43.7" y="249.4" font-size="7.4" font-weight="bold" textLength="83.3" lengthAdjust="spacingAndGlyphs" stroke="#000" stroke-width="0.2">Transduced CD34(+) Cells</text>
<text x="218.3" y="248.8" font-size="7.4" font-weight="bold" textLength="82.6" lengthAdjust="spacingAndGlyphs" stroke="#000" stroke-width="0.2">Transduced CD34(+) Cells</text>
<text x="400" y="247.6" font-size="7.4" font-weight="bold" textLength="82.5" lengthAdjust="spacingAndGlyphs" stroke="#000" stroke-width="0.2">Transduced CD34(+) Cells</text>
</g>
</svg>
</body></html>
